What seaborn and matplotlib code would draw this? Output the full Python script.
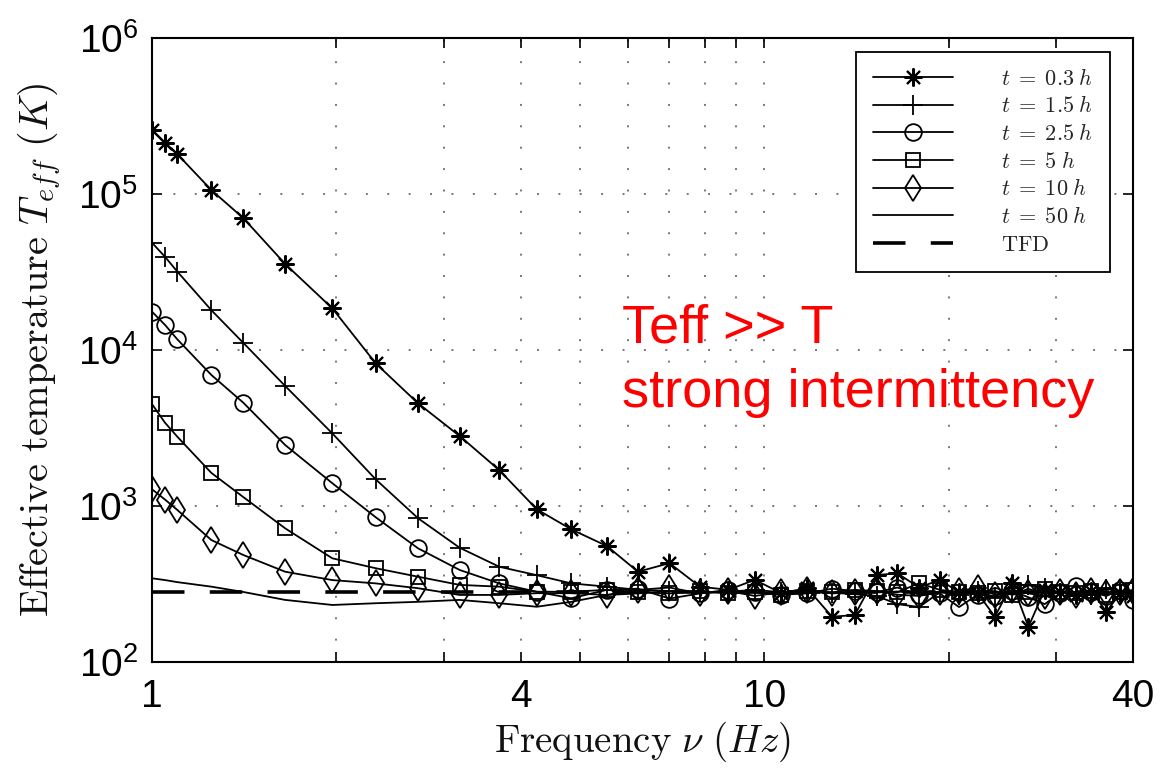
import numpy as np
import matplotlib
matplotlib.use("Agg")
import matplotlib.pyplot as plt
from matplotlib.ticker import NullLocator, FixedLocator
from matplotlib.font_manager import FontProperties
import seaborn as sns

# frequencies (Hz) shared by all measured curves
freq = [1.0, 1.05, 1.1, 1.25, 1.41, 1.65, 1.97, 2.32, 2.72, 3.18, 3.69, 4.25, 4.84,
        5.53, 6.22, 7.0, 7.85, 8.73, 9.65, 10.65, 11.75, 12.9, 14.05, 15.25, 16.5,
        17.9, 19.35, 20.8, 22.3, 23.8, 25.4, 27.0, 28.7, 30.4, 32.3, 34.2, 36.2,
        38.1, 40.0]

t_03 = [2.57e5, 2.13e5, 1.8e5, 1.06e5, 7.0e4, 3.56e4, 1.85e4, 8.2e3, 4.55e3, 2.81e3,
        1.7e3, 953, 708, 554, 379, 430, 304, 290, 336, 277, 297, 195, 200, 361, 370,
        300, 336, 280, 277, 195, 319, 168, 290, 280, 270, 285, 210, 275, 265]
t_15 = [4.87e4, 3.96e4, 3.18e4, 1.8e4, 1.11e4, 5.88e3, 2.92e3, 1.48e3, 834, 540,
        408, 360, 319, 304, 290, 285, 280, 282, 290, 280, 285, 278, 272, 265, 235,
        225, 280, 270, 285, 260, 275, 310, 300, 275, 280, 270, 295, 280, 275]
t_25 = [1.76e4, 1.45e4, 1.17e4, 6.92e3, 4.59e3, 2.46e3, 1.4e3, 846, 535, 389, 319,
        282, 256, 290, 295, 255, 275, 290, 280, 270, 275, 295, 285, 280, 300, 270,
        275, 225, 270, 265, 285, 260, 235, 275, 305, 280, 265, 290, 250]
t_5 = [4.5e3, 3.42e3, 2.78e3, 1.63e3, 1.14e3, 719, 462, 399, 352, 312, 304, 282,
       282, 290, 280, 275, 285, 275, 280, 270, 285, 280, 290, 285, 280, 320, 290,
       280, 275, 285, 270, 280, 295, 280, 275, 285, 270, 280, 290]
t_10 = [1.28e3, 1.1e3, 943, 605, 485, 379, 335, 319, 297, 269, 269, 276, 276, 269,
        290, 300, 275, 285, 265, 280, 290, 275, 280, 285, 270, 265, 280, 285, 300,
        270, 290, 275, 265, 280, 270, 285, 275, 280, 285]
t_50 = [344, 335, 325, 304, 281, 250, 232, 238, 243, 250, 238, 226, 243, 269, 275,
        285, 278, 280, 282, 276, 280, 277, 281, 279, 283, 276, 280, 278, 282, 279,
        277, 281, 280, 278, 282, 279, 281, 280, 279]

tfd_freq = [1.0, 40.0]
tfd_val = [280, 280]

labels = [r"$t\;=\;0.3\;h$", r"$t\;=\;1.5\;h$", r"$t\;=\;2.5\;h$",
          r"$t\;=\;5\;h$", r"$t\;=\;10\;h$", r"$t\;=\;50\;h$", r"$\mathrm{TFD}$"]

sns.set_style("ticks")
plt.rcParams["font.family"] = ["Liberation Sans", "DejaVu Sans"]
plt.rcParams["mathtext.fontset"] = "custom"
plt.rcParams["mathtext.rm"] = "Liberation Sans"
plt.rcParams["mathtext.it"] = "Liberation Sans:italic"

fig = plt.figure(figsize=(11.71, 7.71), dpi=100)
ax = fig.add_axes([0.1298, 0.1414, 0.8377, 0.8093])
ax.set_xscale("log")
ax.set_yscale("log")

styles = [
    dict(marker=(8, 2, 0), markersize=13, markeredgewidth=1.5),
    dict(marker="+", markersize=14, markeredgewidth=1.3),
    dict(marker="o", markersize=12, markerfacecolor="none", markeredgewidth=1.3),
    dict(marker="s", markersize=10, markerfacecolor="none", markeredgewidth=1.3),
    dict(marker="d", markersize=13, markerfacecolor="none", markeredgewidth=1.3),
    dict(marker=None),
]
series = [t_03, t_15, t_25, t_5, t_10, t_50]
for vals, st, lab in zip(series, styles, labels):
    sns.lineplot(x=freq, y=vals, ax=ax, color="black", lw=1.3, label=lab,
                 markeredgecolor="black", estimator=None, sort=False, **st)

sns.lineplot(x=tfd_freq, y=tfd_val, ax=ax, color="black", lw=2.6, label=labels[6],
             dashes=False, estimator=None)
ax.lines[-1].set_dashes((9, 7))

ax.set_xlim(1, 40)
ax.set_ylim(1e2, 1e6)

xt = [1, 2, 3, 4, 5, 6, 7, 8, 9, 10, 20, 30, 40]
xl = ["1", "", "", "4", "", "", "", "", "", "10", "", "", "40"]
ax.xaxis.set_major_locator(FixedLocator(xt))
ax.set_xticklabels(xl)
ax.xaxis.set_minor_locator(NullLocator())
yt = [1e2, 1e3, 1e4, 1e5, 1e6]
ax.yaxis.set_major_locator(FixedLocator(yt))
ax.set_yticklabels([r"$\mathregular{10^{%d}}$" % k for k in range(2, 7)])
ax.yaxis.set_minor_locator(NullLocator())

ax.tick_params(axis="both", which="major", direction="in", top=True, right=True,
               length=7, width=1.2, color="black", labelcolor="black", labelsize=28)
ax.tick_params(axis="x", pad=12)
ax.tick_params(axis="y", pad=10)

ax.grid(True, which="major", color="#777777", linestyle=(0, (1, 10)), lw=1.4)
for s in ax.spines.values():
    s.set_linewidth(1.5)
    s.set_color("black")

ax.set_xlabel(r"$\mathrm{Frequency}\ \nu\ (Hz)$", fontsize=28, math_fontfamily="cm",
              color="#111111", labelpad=4)
ax.set_ylabel(r"$\mathrm{Effective\ temperature}\ T_{eff}\ (K)$", fontsize=29,
              math_fontfamily="cm", color="#111111", labelpad=10)

leg = ax.legend(loc="upper right", bbox_to_anchor=(0.9766, 0.9776), borderaxespad=0,
                prop=FontProperties(size=16, math_fontfamily="cm"), fancybox=False,
                edgecolor="black", framealpha=1, handlelength=3.6, handletextpad=2.2,
                labelspacing=0.3, borderpad=0.75)
leg.get_frame().set_linewidth(1.3)

ax.text(5.86, 1.11e4, "Teff >> T", color="red", fontsize=39, va="baseline")
ax.text(5.86, 4.3e3, "strong intermittency", color="red", fontsize=39, va="baseline")

fig.savefig("out.png", dpi=100)
